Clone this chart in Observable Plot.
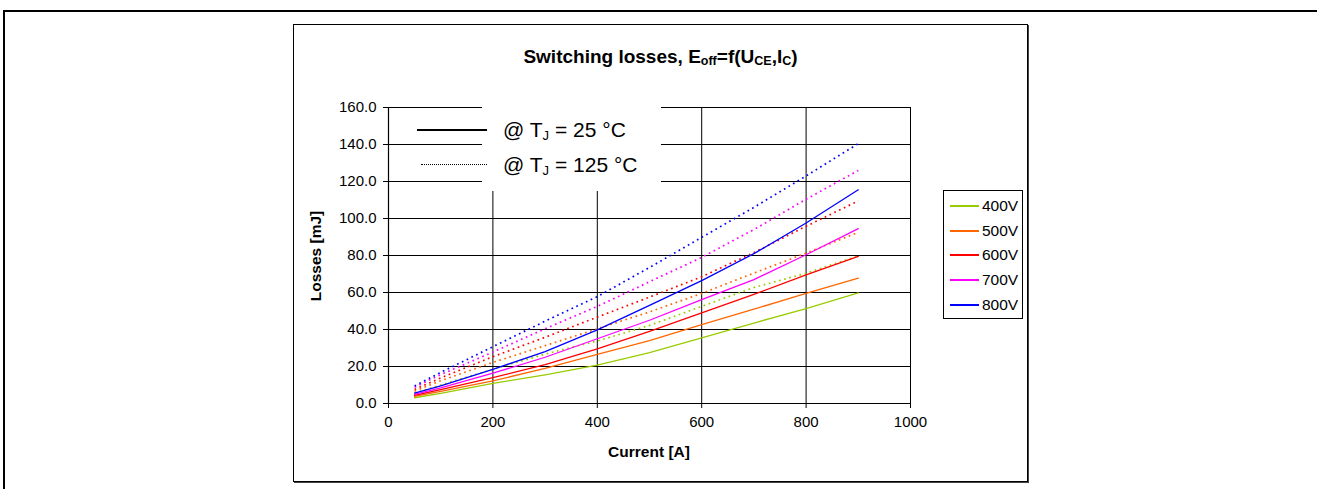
<!DOCTYPE html>
<html>
<head>
<meta charset="utf-8">
<script src="https://cdn.jsdelivr.net/npm/d3@7"></script>
<script src="https://cdn.jsdelivr.net/npm/@observablehq/plot@0.6"></script>
<style>
  html, body { margin: 0; padding: 0; background: #fff; }
  body { font-family: "Liberation Sans", Arial, sans-serif; }
  #page { position: relative; width: 1317px; height: 489px; overflow: hidden; }
  .abs { position: absolute; }
  #outer { left: 3px; top: 10px; width: 1330px; height: 500px; border-top: 2px solid #000; border-left: 2px solid #000; }
  #box { left: 293px; top: 24px; width: 733px; height: 456px; border: 1px solid #000; box-shadow: 1px 1px 0 #444; }
  #chart { left: 293px; top: 24px; }
  #title { left: 293px; width: 735px; top: 57px; transform: translateY(-50%); text-align: center; font-weight: bold; font-size: 19px; color: #000; }
  #title sub { font-size: 12.5px; vertical-align: -2px; }
  #ylab { left: 316px; top: 256px; transform: translate(-50%, -50%) rotate(-90deg); font-weight: bold; font-size: 15.5px; white-space: nowrap; }
  #xlab { left: 649px; top: 452px; transform: translate(-50%, -50%); font-weight: bold; font-size: 15.5px; white-space: nowrap; }
  #tbox { left: 482px; top: 97px; width: 179px; height: 94px; background: #fff; }
  .tline { height: 0; }
  .ttext { font-size: 21px; white-space: nowrap; transform: translateY(-50%); }
  .ttext sub { font-size: 13px; vertical-align: -3px; }
  #vleg { left: 943px; top: 190px; width: 78px; height: 127px; border: 1px solid #000; background: #fff; }
  .vrow { position: absolute; left: 0; width: 78px; height: 20px; }
  .vline { position: absolute; left: 6px; top: 9px; width: 29px; height: 2px; }
  .vtext { position: absolute; left: 38px; top: 10px; transform: translateY(-50%); font-size: 15.5px; }
</style>
</head>
<body>
<div id="page">
  <div id="outer" class="abs"></div>
  <div id="box" class="abs"></div>
  <div id="chart" class="abs"></div>
  <div id="title" class="abs">Switching losses, E<sub>off</sub>=f(U<sub>CE</sub>,I<sub>C</sub>)</div>
  <div id="ylab" class="abs">Losses [mJ]</div>
  <div id="xlab" class="abs">Current [A]</div>
  <div id="tbox" class="abs"></div>
  <div class="abs tline" style="left:417px;top:129px;width:70px;border-top:2px solid #000;"></div>
  <div class="abs tline" style="left:421px;top:164px;width:66px;border-top:1.5px dotted #000;"></div>
  <div class="abs ttext" style="left:503px;top:130px;">@ T<sub>J</sub> = 25 °C</div>
  <div class="abs ttext" style="left:503px;top:165px;">@ T<sub>J</sub> = 125 °C</div>
  <div id="vleg" class="abs"></div>
</div>
<script>
// ---- data ----
const currents = [50, 100, 200, 300, 400, 500, 600, 700, 800, 900];
const voltages = ["400V", "500V", "600V", "700V", "800V"];
const colors = ["#99CC00", "#FF6600", "#FF0000", "#FF00FF", "#0000FF"];

// Tj = 25 °C (solid)
const v400_25 = [3.1, 5.5, 10.9, 15.5, 20.7, 27.5, 35.5, 43.5, 51.3, 59.8];
const v500_25 = [3.8, 6.5, 12.2, 19.0, 26.5, 34.0, 42.7, 51.0, 59.5, 67.8];
const v600_25 = [4.4, 7.5, 14.0, 21.0, 29.5, 39.0, 49.0, 59.0, 69.5, 79.5];
const v700_25 = [4.9, 8.5, 16.4, 25.0, 35.0, 45.0, 56.2, 67.0, 80.4, 94.5];
const v800_25 = [5.6, 9.5, 18.5, 28.0, 39.8, 53.0, 66.4, 81.0, 97.6, 115.5];

// Tj = 125 °C (dotted)
const v400_125 = [5.6, 10.0, 18.5, 26.7, 33.8, 42.2, 52.5, 62.7, 70.4, 79.8];
const v500_125 = [6.7, 12.3, 22.2, 31.3, 40.4, 49.5, 59.5, 70.5, 81.3, 92.5];
const v600_125 = [7.6, 13.8, 25.3, 35.8, 46.7, 57.5, 68.5, 81.6, 95.8, 109.5];
const v700_125 = [8.8, 15.6, 27.8, 40.4, 52.5, 65.8, 79.0, 94.0, 110.4, 126.0];
const v800_125 = [9.5, 16.8, 30.7, 44.5, 57.8, 73.5, 89.8, 106.0, 123.0, 140.5];

const yTicks = [0, 20, 40, 60, 80, 100, 120, 140, 160];
const xTicks = [0, 200, 400, 600, 800, 1000];

// ---- build tables ----
function rows(seriesList) {
  const out = [];
  seriesList.forEach((vals, i) => {
    vals.forEach((v, j) => out.push({current: currents[j], loss: v, voltage: voltages[i]}));
  });
  return out;
}
const cold = rows([v400_25, v500_25, v600_25, v700_25, v800_25]);
const hot = rows([v400_125, v500_125, v600_125, v700_125, v800_125]);

const W = 734, H = 457;
const chart = Plot.plot({
  width: W,
  height: H,
  marginLeft: 95,
  marginRight: 117,
  marginTop: 83,
  marginBottom: 78,
  style: {fontFamily: "'Liberation Sans', Arial, sans-serif", fontSize: "15px", color: "#000", background: "transparent", overflow: "visible"},
  x: {domain: [0, 1000], label: null},
  y: {domain: [0, 160], label: null},
  color: {domain: voltages, range: colors},
  marks: [
    Plot.gridY(yTicks, {stroke: "#000", strokeOpacity: 1, strokeWidth: 1}),
    Plot.gridX(xTicks, {stroke: "#000", strokeOpacity: 1, strokeWidth: 1}),
    Plot.axisY(yTicks, {tickFormat: d3.format(".1f"), tickSize: 5, tickPadding: 7, fontSize: 15, label: null}),
    Plot.axisX(xTicks, {tickFormat: d3.format("d"), tickSize: 5, tickPadding: 8, fontSize: 15, label: null}),
    Plot.ruleY([0], {stroke: "#000", strokeWidth: 1.2}),
    Plot.ruleX([0], {stroke: "#000", strokeWidth: 1.2}),
    Plot.line(hot, {x: "current", y: "loss", z: "voltage", stroke: "voltage", strokeWidth: 1.7, strokeDasharray: "1.7,3.6", strokeLinecap: "butt"}),
    Plot.line(cold, {x: "current", y: "loss", z: "voltage", stroke: "voltage", strokeWidth: 1.3})
  ]
});
document.getElementById("chart").appendChild(chart);

// ---- right legend ----
const leg = document.getElementById("vleg");
voltages.forEach((v, i) => {
  const row = document.createElement("div");
  row.className = "vrow";
  row.style.top = (5 + i * 24.7) + "px";
  row.innerHTML = `<div class="vline" style="background:${colors[i]}"></div><div class="vtext">${v}</div>`;
  leg.appendChild(row);
});
</script>
</body>
</html>
